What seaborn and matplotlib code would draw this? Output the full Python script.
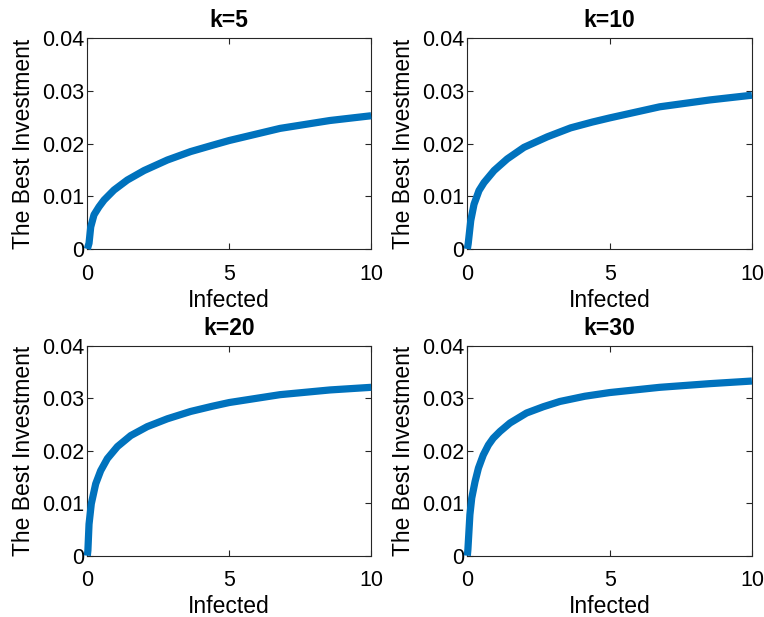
import matplotlib
matplotlib.use("Agg")
import matplotlib.pyplot as plt
import seaborn as sns
import pandas as pd

# Data
titles = ["k=5", "k=10", "k=20", "k=30"]

x_k5 = [0.0, 0.06, 0.12, 0.236, 0.41, 0.59, 0.94, 1.41, 2.0, 2.82, 3.64, 4.41, 5.0, 6.79, 8.55, 10.0]
y_k5 = [0.0, 0.0011, 0.0042, 0.0065, 0.0080, 0.0093, 0.0112, 0.0131, 0.0149, 0.0169, 0.0185, 0.0197,
        0.0206, 0.0229, 0.0244, 0.0253]

x_k10 = [0.0, 0.03, 0.12, 0.235, 0.41, 0.585, 0.94, 1.40, 1.99, 2.81, 3.63, 4.39, 5.01, 6.76, 8.52, 10.0]
y_k10 = [0.0, 0.0010, 0.0054, 0.0085, 0.0111, 0.0126, 0.0149, 0.0171, 0.0193, 0.0213, 0.0230, 0.0241,
         0.0249, 0.0270, 0.0283, 0.0292]

x_k20 = [0.0, 0.02, 0.06, 0.14, 0.295, 0.47, 0.705, 1.06, 1.53, 2.11, 2.82, 3.64, 4.41, 5.0, 6.79, 8.55, 10.0]
y_k20 = [0.0, 0.0010, 0.0060, 0.0099, 0.0137, 0.0162, 0.0185, 0.0208, 0.0229, 0.0246, 0.0261, 0.0275,
         0.0285, 0.0292, 0.0307, 0.0316, 0.0321]

x_k30 = [0.0, 0.02, 0.09, 0.155, 0.27, 0.39, 0.56, 0.74, 0.91, 1.15, 1.5, 2.08, 2.67, 3.25, 4.13, 5.0, 6.76, 8.52, 10.0]
y_k30 = [0.0, 0.0012, 0.0078, 0.0110, 0.0141, 0.0167, 0.0192, 0.0211, 0.0224, 0.0237, 0.0253, 0.0272,
         0.0284, 0.0294, 0.0304, 0.0311, 0.0321, 0.0328, 0.0333]

x_ticks = [0, 5, 10]
x_ticklabels = ["0", "5", "10"]
y_ticks = [0, 0.01, 0.02, 0.03, 0.04]
y_ticklabels = ["0", "0.01", "0.02", "0.03", "0.04"]

series = [(x_k5, y_k5), (x_k10, y_k10), (x_k20, y_k20), (x_k30, y_k30)]

sns.set_theme(style="white")
plt.rcParams['font.family'] = ['Liberation Sans', 'DejaVu Sans']

fig = plt.figure(figsize=(7.64, 6.17), dpi=100)
positions = [
    [0.1143, 0.5964, 0.3715, 0.3415],
    [0.6117, 0.5964, 0.3725, 0.3415],
    [0.1143, 0.0994, 0.3715, 0.3400],
    [0.6117, 0.0994, 0.3725, 0.3400],
]

edge = "#262626"
for pos, title, (xs, ys) in zip(positions, titles, series):
    ax = fig.add_axes(pos)
    df = pd.DataFrame({"Infected": xs, "Best": ys})
    sns.lineplot(data=df, x="Infected", y="Best", ax=ax, color="#0072BD",
                 linewidth=5.2, solid_capstyle="butt", solid_joinstyle="round",
                 clip_on=False, zorder=3)
    ax.set_xlim(0, 10)
    ax.set_ylim(0, 0.04)
    ax.set_xticks(x_ticks)
    ax.set_xticklabels(x_ticklabels)
    ax.set_yticks(y_ticks)
    ax.set_yticklabels(y_ticklabels)
    ax.set_xlabel("Infected", fontsize=16.5, color="black", labelpad=3)
    ax.set_ylabel("The Best Investment", fontsize=16.5, color="black", labelpad=5)
    ax.set_title(title, fontsize=16.5, fontweight="bold", color="black", pad=8)
    for s in ax.spines.values():
        s.set_visible(True)
        s.set_color(edge)
        s.set_linewidth(0.8)
    ax.tick_params(axis="both", which="both", direction="in", length=4,
                   width=0.8, color=edge, labelsize=15.5, labelcolor="black",
                   top=True, right=True, bottom=True, left=True)
    ax.tick_params(axis="x", pad=10.5)
    ax.tick_params(axis="y", pad=2)
    ax.grid(False)

fig.savefig("out.png", dpi=100, facecolor="white")
